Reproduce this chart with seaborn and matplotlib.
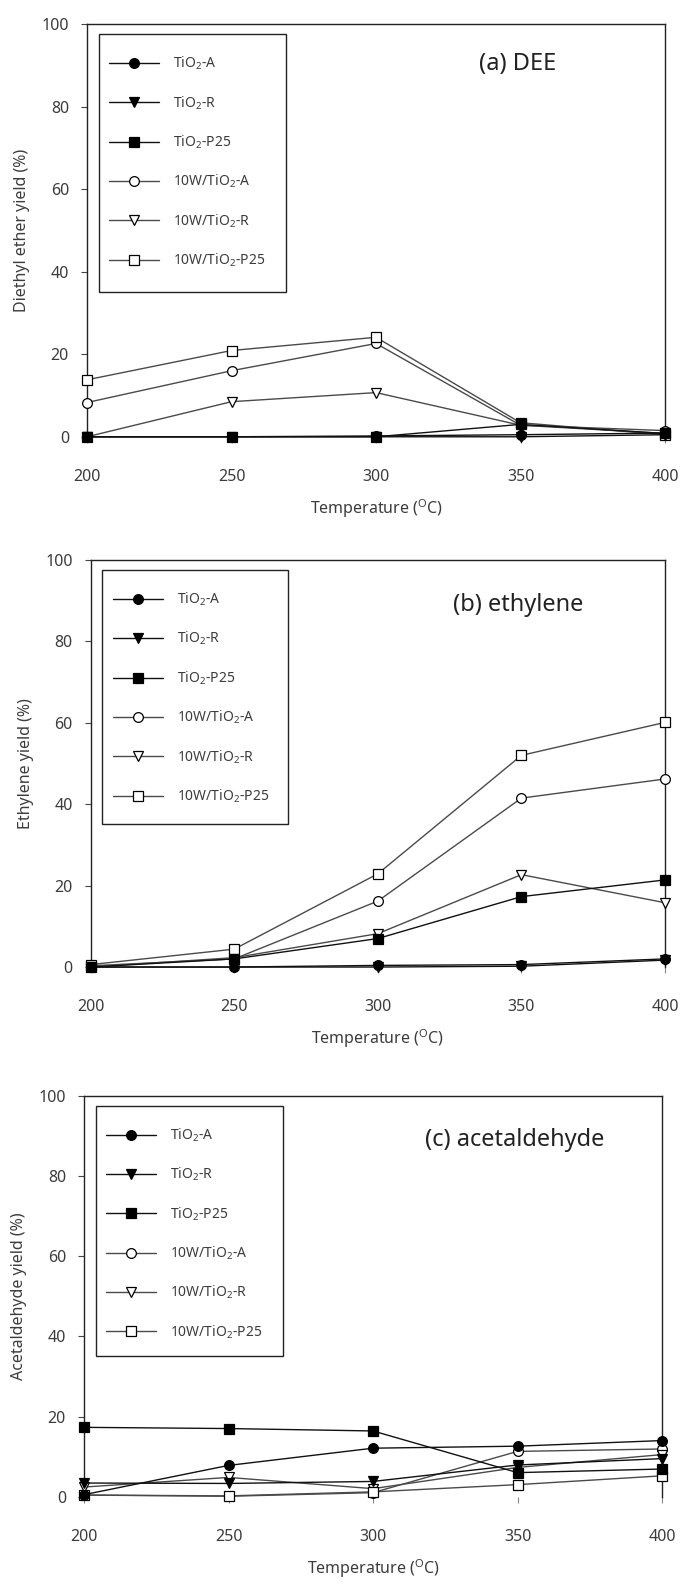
import matplotlib
matplotlib.use("Agg")
import matplotlib.pyplot as plt
from matplotlib.patches import Rectangle
import seaborn as sns
import pandas as pd

# ---------------- data ----------------
temps = [200, 250, 300, 350, 400]
x_ticks = [200, 250, 300, 350, 400]
y_ticks = [0, 20, 40, 60, 80, 100]

series_labels = [r"TiO$_2$-A", r"TiO$_2$-R", r"TiO$_2$-P25",
                 r"10W/TiO$_2$-A", r"10W/TiO$_2$-R", r"10W/TiO$_2$-P25"]

# (a) Diethyl ether yield (%)
dee_tio2_a = [0.0, 0.0, 0.2, 0.5, 0.9]
dee_tio2_r = [0.0, 0.0, 0.0, 0.0, 0.5]
dee_tio2_p25 = [0.0, 0.0, 0.0, 3.0, 0.8]
dee_w_a = [8.3, 16.0, 22.6, 2.8, 1.5]
dee_w_r = [0.0, 8.5, 10.7, 2.8, 0.8]
dee_w_p25 = [13.8, 20.9, 24.1, 3.4, 0.5]

# (b) Ethylene yield (%)
eth_tio2_a = [0.0, 0.0, 0.4, 0.6, 2.0]
eth_tio2_r = [0.0, 0.0, 0.0, 0.2, 1.7]
eth_tio2_p25 = [0.0, 2.0, 7.0, 17.3, 21.4]
eth_w_a = [0.3, 2.0, 16.2, 41.5, 46.2]
eth_w_r = [0.0, 2.3, 8.2, 22.7, 15.8]
eth_w_p25 = [0.6, 4.4, 22.9, 52.0, 60.1]

# (c) Acetaldehyde yield (%)
ace_tio2_a = [0.5, 7.8, 12.1, 12.6, 14.0]
ace_tio2_r = [3.4, 3.3, 3.8, 7.9, 9.5]
ace_tio2_p25 = [17.3, 17.0, 16.4, 6.0, 6.9]
ace_w_a = [0.4, 0.1, 1.0, 11.3, 11.9]
ace_w_r = [2.4, 4.8, 2.0, 7.3, 10.5]
ace_w_p25 = [0.4, 0.2, 1.2, 3.0, 5.2]

panel_titles = ["(a) DEE", "(b) ethylene", "(c) acetaldehyde"]
y_labels = ["Diethyl ether yield (%)", "Ethylene yield (%)", "Acetaldehyde yield (%)"]
x_label = r"Temperature ($^{\mathrm{O}}$C)"

panels = [
    [dee_tio2_a, dee_tio2_r, dee_tio2_p25, dee_w_a, dee_w_r, dee_w_p25],
    [eth_tio2_a, eth_tio2_r, eth_tio2_p25, eth_w_a, eth_w_r, eth_w_p25],
    [ace_tio2_a, ace_tio2_r, ace_tio2_p25, ace_w_a, ace_w_r, ace_w_p25],
]

# ---------------- style ----------------
sns.set_theme(style="white")
plt.rcParams["font.family"] = ["Noto Sans", "DejaVu Sans"]
plt.rcParams["mathtext.fontset"] = "custom"
plt.rcParams["mathtext.rm"] = "Noto Sans"
plt.rcParams["mathtext.it"] = "Noto Sans:italic"
plt.rcParams["mathtext.bf"] = "Noto Sans:bold"

markers = ["o", "v", "s", "o", "v", "s"]
face = ["black", "black", "black", "white", "white", "white"]
line_cols = ["#111111", "#111111", "#111111", "#4a4a4a", "#4a4a4a", "#4a4a4a"]
zorders = [4, 4, 4, 3, 3, 3]

text_col = "#3c3c3c"

fig = plt.figure(figsize=(6.82, 15.90), dpi=100)
positions = [
    [0.1276, 0.7253, 0.8475, 0.2596],
    [0.1330, 0.3918, 0.8420, 0.2560],
    [0.1232, 0.0587, 0.8475, 0.2520],
]
title_y = [0.903, 0.89, 0.89]

for p, pos in enumerate(positions):
    ax = fig.add_axes(pos)
    for i, vals in enumerate(panels[p]):
        df = pd.DataFrame({"T": temps, "Y": vals})
        sns.lineplot(data=df, x="T", y="Y", ax=ax, label=series_labels[i],
                     color=line_cols[i], linewidth=1.0, marker=markers[i],
                     markersize=7, markerfacecolor=face[i],
                     markeredgecolor="black", markeredgewidth=0.9,
                     clip_on=False, zorder=zorders[i], estimator=None)
    ax.set_xlim(200, 400)
    ax.set_ylim(0, 100)
    ax.set_xticks(x_ticks)
    ax.set_yticks(y_ticks)
    ax.spines["bottom"].set_visible(False)
    for s in ["top", "left", "right"]:
        ax.spines[s].set_color("#222222")
        ax.spines[s].set_linewidth(1.0)
    ax.tick_params(axis="y", left=True, direction="out", length=4, width=0.8,
                   color="#444444", pad=9, labelsize=11.5, labelcolor=text_col)
    ax.tick_params(axis="x", bottom=True, direction="out", length=4, width=0.8,
                   color="#888888", pad=19, labelsize=11.5, labelcolor=text_col)
    ax.set_xlabel(x_label, fontsize=11.5, color=text_col, labelpad=9)
    ax.set_ylabel(y_labels[p], fontsize=11.5, color=text_col, labelpad=8)
    ax.text(0.745, title_y[p], panel_titles[p], transform=ax.transAxes,
            ha="center", va="center", fontsize=17, color="#222222")

    # legend box frame (square corners, white fill)
    box = Rectangle((0.020, 0.351), 0.324, 0.624, transform=ax.transAxes,
                    facecolor="white", edgecolor="#222222", linewidth=1.0,
                    zorder=5, clip_on=False)
    ax.add_patch(box)
    leg = ax.legend(loc="upper left", bbox_to_anchor=(0.012, 0.962),
                    borderaxespad=0, frameon=False, fontsize=10,
                    handlelength=3.6, handletextpad=1.0, labelspacing=1.58,
                    borderpad=1.1, labelcolor=text_col)
    leg.set_zorder(6)

fig.savefig("out.png", dpi=100)
